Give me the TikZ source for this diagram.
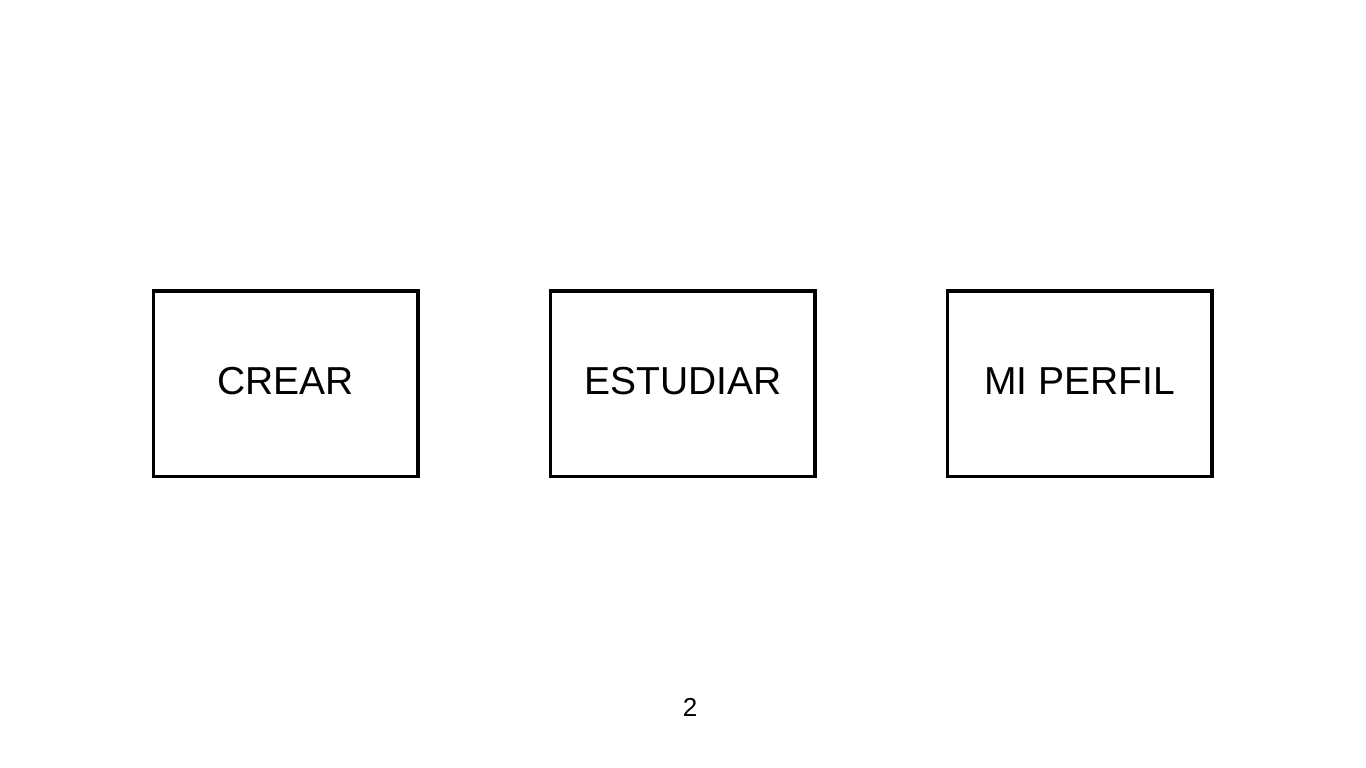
\documentclass[tikz,border=0pt]{standalone}
\usepackage{fontspec}
\setmainfont{Liberation Sans}
\usetikzlibrary{positioning}

\begin{document}
\begin{tikzpicture}[
    node distance=2.58cm,
    menubox/.style={
        draw,
        line width=2pt,
        minimum width=5.29cm,
        minimum height=3.71cm,
        text depth=0.12cm,
        align=center,
        font=\fontsize{22.2}{26}\selectfont
    }
]
\useasboundingbox (0,0) rectangle (27.32,15.36);
\node[menubox] (crear) at (5.715,7.68) {CREAR};
\node[menubox, right=of crear] (estudiar) {ESTUDIAR};
\node[menubox, right=of estudiar] (perfil) {MI PERFIL};

\node[font=\fontsize{14.8}{18}\selectfont] (pagina) at (13.8,1.22) {2};
\end{tikzpicture}
\end{document}
